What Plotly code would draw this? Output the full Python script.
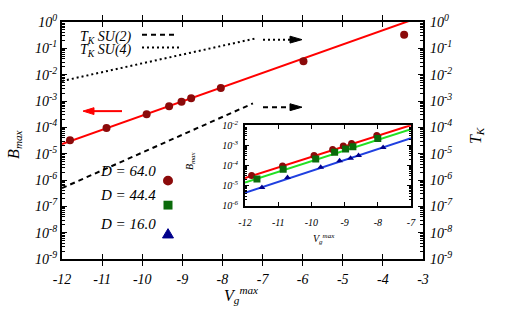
import plotly.graph_objects as go

# ---------------- data ----------------
# main panel: B_max (D = 64.0) vs Vg^max
vg_main = [-11.80, -10.89, -9.89, -9.33, -9.02, -8.78, -8.04, -5.98, -3.47]
b_main = [3.2e-5, 9.4e-5, 3.15e-4, 6.3e-4, 9.4e-4, 1.26e-3, 3.1e-3, 3.2e-2, 0.33]
fit_main_vg = [-12.0, -3.0]
fit_main_b = [2.3e-5, 1.69]

# Kondo temperatures (right axis)
tk_su2_vg = [-12.0, -10.0, -8.0, -7.24]
tk_su2 = [4.9e-7, 1.1e-5, 2.5e-4, 8.1e-4]
tk_su4_vg = [-12.0, -10.0, -8.0, -7.14]
tk_su4 = [5.75e-3, 2.7e-2, 0.126, 0.244]

# inset: three bandwidths
vg_d64 = [-11.80, -10.87, -9.92, -9.36, -9.04, -8.79, -8.03]
b_d64 = [3.2e-5, 9.4e-5, 3.15e-4, 6.3e-4, 9.4e-4, 1.26e-3, 3.1e-3]
vg_d44 = [-11.64, -10.85, -9.87, -9.30, -8.97, -8.75, -8.00]
b_d44 = [2.1e-5, 6.5e-5, 2.1e-4, 4.6e-4, 6.6e-4, 8.5e-4, 2.2e-3]
vg_d16 = [-11.49, -10.72, -9.72, -9.15, -8.82, -8.58, -7.84]
b_d16 = [8.1e-6, 2.5e-5, 8.1e-5, 1.7e-4, 2.3e-4, 3.1e-4, 7.9e-4]
fit_in_vg = [-12.0, -7.0]
fit_d64 = [2.34e-5, 1.02e-2]
fit_d44 = [1.4e-5, 6.5e-3]
fit_d16 = [4.3e-6, 2.3e-3]

legend_labels = ["D = 64.0", "D = 44.4", "D = 16.0"]

x_main_ticks = [-12, -11, -10, -9, -8, -7, -6, -5, -4, -3]
y_main_exps = [0, -1, -2, -3, -4, -5, -6, -7, -8, -9]
x_in_ticks = [-12, -11, -10, -9, -8, -7]
y_in_exps = [-2, -3, -4, -5, -6]

# ---------------- geometry helpers ----------------
W, H = 507, 321
L, R, T, B = 62, 423, 17, 259


def px(x):
    return (x - L) / (R - L)


def py(y):
    return (B - y) / (B - T)


FONT = "Liberation Serif"
DARKRED = "#8b0a0a"
DARKGREEN = "#0b6b0b"
NAVY = "#00008b"
DASH = "5px,4px"
DOT = "2px,3px"

fig = go.Figure()

# main
fig.add_trace(go.Scatter(x=fit_main_vg, y=fit_main_b, mode="lines",
                         line=dict(color="#ff0000", width=2), xaxis="x", yaxis="y"))
fig.add_trace(go.Scatter(x=vg_main, y=b_main, mode="markers",
                         marker=dict(color=DARKRED, size=8), xaxis="x", yaxis="y"))
fig.add_trace(go.Scatter(x=tk_su2_vg, y=tk_su2, mode="lines",
                         line=dict(color="black", width=2, dash=DASH), xaxis="x", yaxis="y3"))
fig.add_trace(go.Scatter(x=tk_su4_vg, y=tk_su4, mode="lines",
                         line=dict(color="black", width=2, dash=DOT), xaxis="x", yaxis="y3"))

# inset
for fx, fy, col in [(fit_in_vg, fit_d64, "#ff0000"), (fit_in_vg, fit_d44, "#22e022"),
                    (fit_in_vg, fit_d16, "#1f3fe0")]:
    fig.add_trace(go.Scatter(x=fx, y=fy, mode="lines", line=dict(color=col, width=2),
                             xaxis="x2", yaxis="y2"))
fig.add_trace(go.Scatter(x=vg_d16, y=b_d16, mode="markers",
                         marker=dict(color=NAVY, size=6, symbol="triangle-up"), xaxis="x2", yaxis="y2"))
fig.add_trace(go.Scatter(x=vg_d64, y=b_d64, mode="markers",
                         marker=dict(color=DARKRED, size=7), xaxis="x2", yaxis="y2"))
fig.add_trace(go.Scatter(x=vg_d44, y=b_d44, mode="markers",
                         marker=dict(color=DARKGREEN, size=7, symbol="square"), xaxis="x2", yaxis="y2"))


def pw(e):
    return "10<sup>%d</sup>" % e


axis_common = dict(showline=True, linecolor="black", linewidth=2, showgrid=False,
                   zeroline=False, ticks="inside", tickcolor="black")

fig.update_layout(
    width=W, height=H,
    margin=dict(l=L, r=W - R, t=T, b=H - B),
    paper_bgcolor="white", plot_bgcolor="white",
    showlegend=False,
    font=dict(family=FONT, style="italic", color="black", size=13),
    xaxis=dict(domain=[0, 1], range=[-12, -3], tickmode="array", tickvals=x_main_ticks,
               ticktext=[str(v) for v in x_main_ticks], ticklen=5, mirror="allticks",
               tickfont=dict(size=14), anchor="y", ticklabelstandoff=6, **axis_common),
    yaxis=dict(domain=[0, 1], type="log", range=[-9, 0], tickmode="array",
               tickvals=[10.0 ** e for e in y_main_exps], ticktext=[pw(e) for e in y_main_exps],
               ticklen=5, mirror=True, tickfont=dict(size=14), anchor="x",
               minor=dict(ticks="inside", ticklen=3, tickcolor="black", dtick="D1"),
               **axis_common),
    yaxis3=dict(overlaying="y", side="right", type="log", range=[-9, 0], tickmode="array",
                tickvals=[10.0 ** e for e in y_main_exps], ticktext=[pw(e) for e in y_main_exps],
                ticklen=5, showline=False, showgrid=False, zeroline=False, ticks="inside",
                tickcolor="black", tickfont=dict(size=14), anchor="x", ticklabelstandoff=6,
                minor=dict(ticks="inside", ticklen=3, tickcolor="black", dtick="D1")),
    xaxis2=dict(domain=[px(245), px(411)], range=[-12, -7], tickmode="array", tickvals=x_in_ticks,
                ticktext=[str(v) for v in x_in_ticks], ticklen=4, mirror="allticks",
                tickfont=dict(size=10), anchor="y2", ticklabelstandoff=6, **axis_common),
    yaxis2=dict(domain=[py(204.5), py(122.5)], type="log", range=[-6, -2], tickmode="array",
                tickvals=[10.0 ** e for e in y_in_exps], ticktext=[pw(e) for e in y_in_exps],
                ticklen=4, mirror="allticks", tickfont=dict(size=10), anchor="x2",
                ticklabelstandoff=3,
                minor=dict(ticks="inside", ticklen=2, tickcolor="black", dtick="D1"),
                **axis_common),
)

ann = []


def txt(x, y, s, size, **kw):
    d = dict(x=px(x), y=py(y), xref="paper", yref="paper", text=s, showarrow=False,
             font=dict(size=size, family=FONT, style="italic"))
    d.update(kw)
    ann.append(d)


txt(3, 143, "B<sub>max</sub>", 16, textangle=-90)
txt(488, 133, "T<sub>K</sub>", 16, textangle=-90)
txt(241, 309, "V<sub>g</sub><sup>max</sup>", 16)
txt(190, 159, "B<sub>max</sub>", 10, textangle=-90)
txt(337, 248, "V<sub>g</sub><sup>max</sup>", 10)
txt(78, 22, "T<sub>K</sub> SU(2)", 14, xanchor="left")
txt(78, 35, "T<sub>K</sub> SU(4)", 14, xanchor="left")
for lab, yy in zip(legend_labels, [179, 204, 233]):
    txt(158, yy, lab, 15, xanchor="right")
fig.update_layout(annotations=ann)

shapes = []


def seg(x0, x1, y, color, dash=None):
    shapes.append(dict(type="line", xref="paper", yref="paper", x0=px(x0), x1=px(x1),
                       y0=py(y), y1=py(y), line=dict(color=color, width=2, dash=dash)))


def tri(pts, color):
    p = "M " + " L ".join("%.5f,%.5f" % (px(a), py(b)) for a, b in pts) + " Z"
    shapes.append(dict(type="path", xref="paper", yref="paper", path=p,
                       fillcolor=color, line=dict(color=color, width=1)))


seg(142, 177, 30, "black", DASH)
seg(142, 180, 43, "black", DOT)
seg(263, 291, 104, "black", DASH)
tri([(302, 104), (290, 100.5), (290, 107.5)], "black")
seg(263, 291, 35, "black", DOT)
tri([(302, 35), (290, 31.5), (290, 38.5)], "black")
seg(92, 122, 108, "#ff0000")
tri([(83, 108), (94, 104.5), (94, 111.5)], "#ff0000")
# legend keys
shapes.append(dict(type="circle", xref="paper", yref="paper", x0=px(163), x1=px(173),
                   y0=py(184), y1=py(174), fillcolor=DARKRED, line=dict(color=DARKRED, width=0)))
shapes.append(dict(type="rect", xref="paper", yref="paper", x0=px(163.5), x1=px(172.5),
                   y0=py(208.5), y1=py(199.5), fillcolor=DARKGREEN, line=dict(color=DARKGREEN, width=0)))
tri([(168, 228), (173.5, 237.5), (162.5, 237.5)], NAVY)
fig.update_layout(shapes=shapes)

fig.write_html("out.html")
